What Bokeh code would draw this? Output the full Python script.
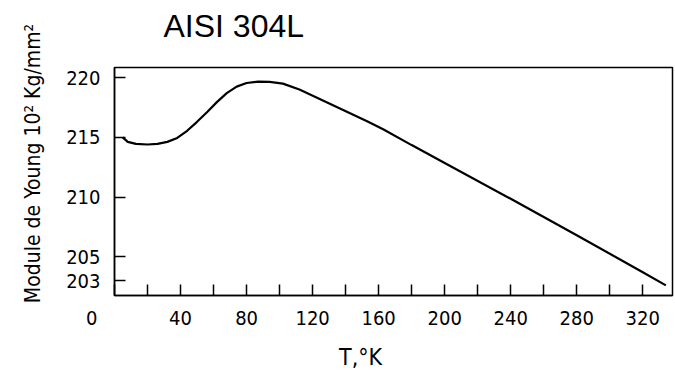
from bokeh.plotting import figure
from bokeh.models import FixedTicker, Range1d, Title
from bokeh.embed import file_html
from bokeh.resources import INLINE

# Data
temperature_K = [5, 8, 13, 20, 26, 32, 38, 44, 50, 56, 62, 68, 74, 80, 87, 94,
                 102, 112, 123, 133, 143, 153, 163, 180, 200, 240, 280, 320, 334]
young_modulus = [215.0, 214.62, 214.45, 214.4, 214.45, 214.62, 214.95, 215.55,
                 216.3, 217.1, 217.95, 218.7, 219.25, 219.55, 219.67, 219.65,
                 219.5, 219.0, 218.3, 217.65, 217.0, 216.35, 215.65, 214.35,
                 212.85, 209.85, 206.8, 203.7, 202.6]

x_ticks = [0, 20, 40, 60, 80, 100, 120, 140, 160, 180, 200, 220, 240, 260, 280, 300, 320]
x_labeled = [40, 80, 120, 160, 200, 240, 280, 320]
y_ticks = [203, 205, 210, 215, 220]

title_text = "AISI 304L"
x_title = "T,°K"
y_title = "Module de Young 10² Kg/mm²"
origin_label = "0"

FONT = "DejaVu Sans Condensed"
FSP = "\u2007"  # figure space, used to shift centred texts

p = figure(width=675, height=372, output_backend="svg", toolbar_location=None,
           x_range=Range1d(0, 338), y_range=Range1d(201.75, 220.85),
           min_border_left=114, min_border_right=3, min_border_top=67,
           min_border_bottom=75)
p.background_fill_color = "white"
p.border_fill_color = "white"
p.outline_line_color = "black"
p.outline_line_width = 1.5
p.grid.visible = False

p.title.text = title_text
p.title.text_font = "Liberation Sans"
p.title.text_font_size = "32px"
p.title.text_font_style = "normal"
p.title.text_color = "black"
p.title.align = "left"
p.title.offset = 49
p.title.standoff = 0

# invisible spacer between the title and the frame
p.add_layout(Title(text=" ", text_font_size="2px", standoff=20), "above")

p.line(temperature_K, young_modulus, line_color="black", line_width=2.2)

labels = {}
for t in x_ticks:
    if t in x_labeled:
        labels[t] = str(t)
    elif t == 0:
        labels[t] = origin_label + FSP * 4
    else:
        labels[t] = ""

xa = p.xaxis[0]
xa.ticker = FixedTicker(ticks=x_ticks, minor_ticks=[])
xa.major_label_overrides = labels
xa.major_tick_in = 11
xa.major_tick_out = 0
xa.minor_tick_in = 0
xa.minor_tick_out = 0
xa.major_tick_line_width = 1.5
xa.axis_line_width = 1.5
xa.major_label_standoff = 10
xa.major_label_text_font = FONT
xa.major_label_text_font_size = "20px"
xa.major_label_text_color = "black"
xa.axis_label = x_title + FSP * 5
xa.axis_label_text_font = FONT
xa.axis_label_text_font_style = "normal"
xa.axis_label_text_font_size = "23px"
xa.axis_label_standoff = 11
xa.axis_label_text_color = "black"

ya = p.yaxis[0]
ya.ticker = FixedTicker(ticks=y_ticks, minor_ticks=[])
ya.major_tick_in = 11
ya.major_tick_out = 0
ya.minor_tick_in = 0
ya.minor_tick_out = 0
ya.major_tick_line_width = 1.5
ya.axis_line_width = 1.5
ya.major_label_standoff = 14
ya.major_label_text_font = FONT
ya.major_label_text_font_size = "20px"
ya.major_label_text_color = "black"
ya.axis_label = FSP * 3 + y_title
ya.axis_label_text_font = FONT
ya.axis_label_text_font_style = "normal"
ya.axis_label_text_font_size = "21px"
ya.axis_label_standoff = 18
ya.axis_label_text_color = "black"

open("out.html", "w").write(file_html(p, INLINE))
